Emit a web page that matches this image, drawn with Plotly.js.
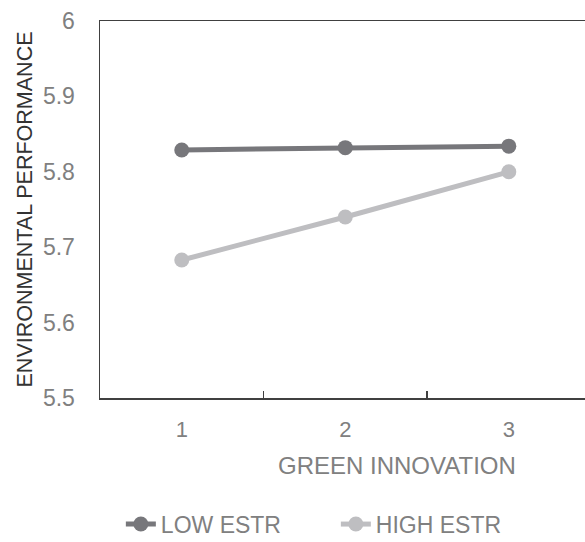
<!DOCTYPE html>
<html>
<head>
<meta charset="utf-8">
<script src="https://cdn.plot.ly/plotly-3.0.1.min.js"></script>
<style>html,body{margin:0;padding:0;background:#fff;}#chart{width:585px;height:542px;}</style>
</head>
<body>
<div id="chart"></div>
<script>
const categories = ['1', '2', '3'];
const lowEstr = [5.829, 5.832, 5.834];
const highEstr = [5.683, 5.740, 5.800];
const yTicks = [5.5, 5.6, 5.7, 5.8, 5.9, 6];
const yTickText = ['5.5', '5.6', '5.7', '5.8', '5.9', '6'];
const xTitle = 'GREEN INNOVATION';
const yTitle = 'ENVIRONMENTAL PERFORMANCE';

const FONT = 'Liberation Sans, Arial, sans-serif';
const GRAY = '#808080';

const traces = [
  {
    x: categories, y: lowEstr, name: 'LOW ESTR', type: 'scatter', mode: 'lines+markers',
    line: {color: '#77777b', width: 5}, marker: {color: '#77777b', size: 15}
  },
  {
    x: categories, y: highEstr, name: 'HIGH ESTR', type: 'scatter', mode: 'lines+markers',
    line: {color: '#bebec1', width: 5}, marker: {color: '#bebec1', size: 15}
  }
];

const layout = {
  width: 585, height: 542,
  margin: {l: 100, r: 0, t: 20.5, b: 144, pad: 0},
  paper_bgcolor: '#fff', plot_bgcolor: '#fff',
  font: {family: FONT, size: 23, color: GRAY},
  showlegend: true,
  legend: {
    orientation: 'h', x: 0.043, xanchor: 'left', yref: 'container', y: 0.033, yanchor: 'middle',
    font: {family: FONT, size: 23, color: GRAY}, itemwidth: 30, tracegroupgap: 0,
    entrywidth: 170, entrywidthmode: 'pixels'
  },
  annotations: [{
    text: xTitle, xref: 'paper', yref: 'paper', x: 0.612, y: -0.18, xanchor: 'center', yanchor: 'middle',
    showarrow: false, font: {family: FONT, size: 24, color: GRAY}
  }],
  xaxis: {
    type: 'category', range: [-0.5, 2.466],
    showline: true, linecolor: '#404040', linewidth: 1.5, mirror: true,
    showgrid: false, zeroline: false,
    ticks: 'inside', tickson: 'boundaries', ticklen: 7, tickcolor: '#404040', tickwidth: 1.2,
    ticklabelstandoff: 11,
    tickfont: {family: FONT, size: 22, color: GRAY},
    automargin: false, fixedrange: true
  },
  yaxis: {
    range: [5.5, 6],
    tickvals: yTicks, ticktext: yTickText,
    showline: true, linecolor: '#404040', linewidth: 1.5, mirror: false,
    showgrid: false, zeroline: false, ticks: '',
    ticklabelstandoff: 19,
    tickfont: {family: FONT, size: 23, color: GRAY},
    title: {text: yTitle, font: {family: FONT, size: 21.5, color: '#333333'}, standoff: 4},
    automargin: false, fixedrange: true
  }
};

Plotly.newPlot('chart', traces, layout, {displayModeBar: false, staticPlot: true});
</script>
</body>
</html>
